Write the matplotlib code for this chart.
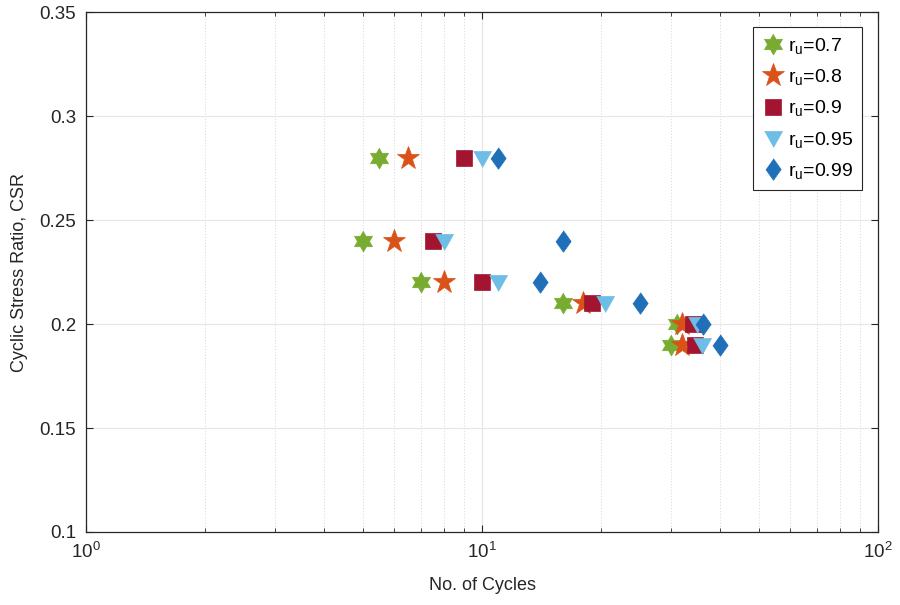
import numpy as np
import matplotlib.pyplot as plt
from matplotlib.ticker import LogLocator, NullFormatter

plt.rcParams['font.family'] = ['Liberation Sans', 'DejaVu Sans']
plt.rcParams['mathtext.fontset'] = 'custom'
plt.rcParams['mathtext.rm'] = 'Liberation Sans'
plt.rcParams['mathtext.it'] = 'Liberation Sans'

# CSR levels tested and the number of cycles needed to reach each pore pressure ratio
csr = [0.28, 0.24, 0.22, 0.21, 0.20, 0.19]
n_07 = [5.5, 5.0, 7.0, 16.0, 31.0, 30.0]
n_08 = [6.5, 6.0, 8.0, 18.0, 32.0, 32.0]
n_09 = [9.0, 7.5, 10.0, 19.0, 34.0, 34.5]
n_095 = [10.0, 8.0, 11.0, 20.5, 35.0, 36.0]
n_099 = [11.0, 16.0, 14.0, 25.0, 36.2, 40.0]
labels = ['0.7', '0.8', '0.9', '0.95', '0.99']


def star_verts(points, inner):
    # star outline, first point straight up
    ang = np.pi / 2 + np.arange(2 * points) * np.pi / points
    r = np.where(np.arange(2 * points) % 2 == 0, 1.0, inner)
    return list(zip(r * np.cos(ang), r * np.sin(ang)))


hexagram = star_verts(6, 1 / np.sqrt(3))
diamond = [(0, 1), (0.71, 0), (0, -1), (-0.71, 0)]
tri_down = [(-1, 0.78), (1, 0.78), (0, -1)]

series = [n_07, n_08, n_09, n_095, n_099]
markers = [hexagram, '*', 's', tri_down, diamond]
sizes = [15, 17, 11, 13, 15.5]
colors = ['#77AC30', '#D95319', '#A2142F', '#6DBDE6', '#1F70B8']

fig = plt.figure(figsize=(9, 6.05), dpi=100)
ax = fig.add_axes([0.0956, 0.1207, 0.88, 0.8593])

for n, m, s, c, lab in zip(series, markers, sizes, colors, labels):
    ax.plot(n, csr, linestyle='none', marker=m, markersize=s, color=c,
            markeredgewidth=0.5, label=r'r$_\mathrm{u}$=' + lab)

ax.set_xscale('log')
ax.set_xlim(1, 100)
ax.set_ylim(0.1, 0.35)
ax.set_yticks([0.1, 0.15, 0.2, 0.25, 0.3, 0.35])
ax.set_yticklabels(['0.1', '0.15', '0.2', '0.25', '0.3', '0.35'])
ax.xaxis.set_minor_locator(LogLocator(base=10, subs=range(2, 10)))
ax.xaxis.set_minor_formatter(NullFormatter())

ax.grid(True, which='major', color='#e6e6e6', linewidth=0.8)
ax.grid(True, which='minor', axis='x', color='#dcdcdc', linestyle=':', linewidth=0.8)
ax.set_axisbelow(True)

ax.tick_params(which='both', direction='in', top=True, right=True,
               labelsize=13.5, colors='#262626')
ax.tick_params(which='major', length=5, width=0.8)
ax.tick_params(which='minor', length=3, width=0.6)
ax.tick_params(axis='y', which='major', pad=7)
ax.tick_params(axis='x', which='major', pad=7)
for sp in ax.spines.values():
    sp.set_color('#262626')
    sp.set_linewidth(0.9)

ax.set_xlabel('No. of Cycles', fontsize=13, color='#262626', labelpad=11)
ax.set_ylabel('Cyclic Stress Ratio, CSR', fontsize=13, color='#262626', labelpad=8)

leg = ax.legend(loc='upper right', bbox_to_anchor=(0.98, 0.971), borderaxespad=0,
                fontsize=14, fancybox=False, edgecolor='#262626', framealpha=1,
                handletextpad=0.25, labelspacing=0.58, borderpad=0.45,
                handlelength=1.1)
leg.get_frame().set_linewidth(0.8)

fig.savefig('out.png', dpi=100)
